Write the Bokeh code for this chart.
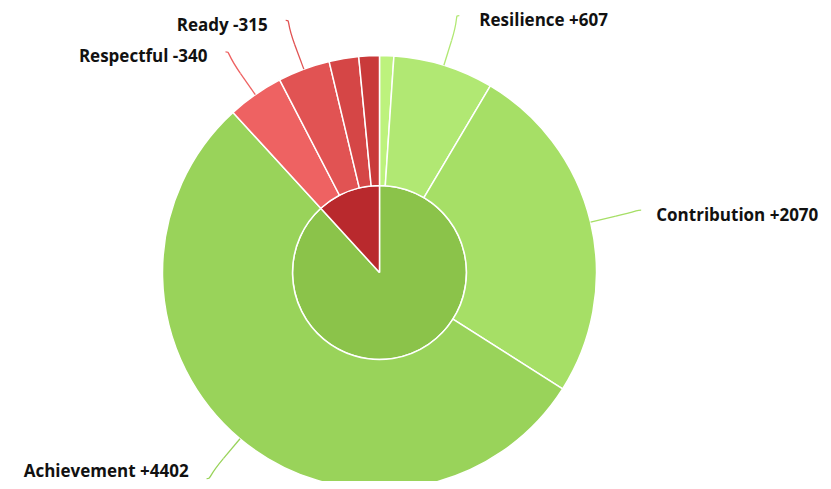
import math
from bokeh.plotting import figure
from bokeh.models import Range1d, ColumnDataSource
from bokeh.embed import file_html
from bokeh.resources import INLINE
from bokeh.core.properties import value

# ---- data (outer ring, clockwise from 12 o'clock) ----
categories = ["", "Resilience", "Contribution", "Achievement", "Respectful", "Ready", "", ""]
values = [86, 607, 2070, 4402, -340, -315, -179, -124]
outer_colors = ["#bdf27d", "#b1e873", "#a6df66", "#99d35a", "#ee6262", "#e15353", "#d54646", "#c93a3a"]

# ---- inner pie: positive vs negative totals ----
inner_names = ["Positive", "Negative"]
inner_values = [sum(v for v in values if v > 0), -sum(v for v in values if v < 0)]
inner_colors = ["#8bc34a", "#b9292d"]

# ---- layout ----
W, H = 823, 481
CX, CY = 379, -272
R_IN, R_OUT = 87, 217
DIST = 52
FS = 17

p = figure(width=W, height=H, output_backend="svg", toolbar_location=None,
           x_range=Range1d(0, W), y_range=Range1d(-H, 0),
           x_axis_type=None, y_axis_type=None, min_border=0,
           background_fill_color="white", border_fill_color="white")
p.outline_line_color = None
p.grid.visible = False


def wedges(vals):
    tot = sum(abs(v) for v in vals)
    out = []
    acc = 0.0
    for v in vals:
        a = acc / tot
        acc += abs(v)
        b = acc / tot
        out.append((a, b))
    return out


# inner pie
iw = wedges(inner_values)
isrc = ColumnDataSource(dict(
    name=inner_names, val=inner_values, color=inner_colors,
    start=[math.pi / 2 - 2 * math.pi * b for a, b in iw],
    end=[math.pi / 2 - 2 * math.pi * a for a, b in iw],
))
p.wedge(x=CX, y=CY, radius=R_IN, start_angle="start", end_angle="end",
        direction="anticlock", fill_color="color", line_color="white",
        line_width=1.5, source=isrc)

# outer ring
ow = wedges(values)
osrc = ColumnDataSource(dict(
    name=categories, val=values, color=outer_colors,
    start=[math.pi / 2 - 2 * math.pi * b for a, b in ow],
    end=[math.pi / 2 - 2 * math.pi * a for a, b in ow],
))
p.annular_wedge(x=CX, y=CY, inner_radius=R_IN, outer_radius=R_OUT,
                start_angle="start", end_angle="end", direction="anticlock",
                fill_color="color", line_color="white", line_width=1.5,
                source=osrc)

# data labels with connectors
for (a, b), name, v, col in zip(ow, categories, values, outer_colors):
    if not name:
        continue
    m = math.pi * (a + b)
    dx, dy = math.sin(m), math.cos(m)
    tx, ty = CX + R_OUT * dx, CY + R_OUT * dy
    bx, by = CX + (R_OUT + DIST / 2) * dx, CY + (R_OUT + DIST / 2) * dy
    lx, ly = CX + (R_OUT + DIST) * dx, CY + (R_OUT + DIST) * dy
    left = dx >= 0
    txt = f"{name} {'+' if v > 0 else ''}{v}"
    p.bezier(x0=lx, y0=ly, x1=bx, y1=by,
             cx0=lx + (-5 if left else 5), cy0=ly,
             cx1=2 * bx - tx, cy1=2 * by - ty,
             line_color=col, line_width=1.3)
    p.segment(x0=bx, y0=by, x1=tx, y1=ty, line_color=col, line_width=1.3)
    est_w = 0.54 * FS * len(txt)
    if left:
        xt = min(lx + 20, W - 2 - est_w)
        align = "left"
    else:
        xt = lx - 18
        align = "right"
    yt = max(ly - 4, -H + 11)
    p.text(x=[xt], y=[yt], text=[txt], text_align=align, text_baseline="middle",
           text_font=value("Open Sans"), text_font_style="bold",
           text_font_size=f"{FS}px", text_color="#111111")

open("out.html", "w").write(file_html(p, INLINE))
